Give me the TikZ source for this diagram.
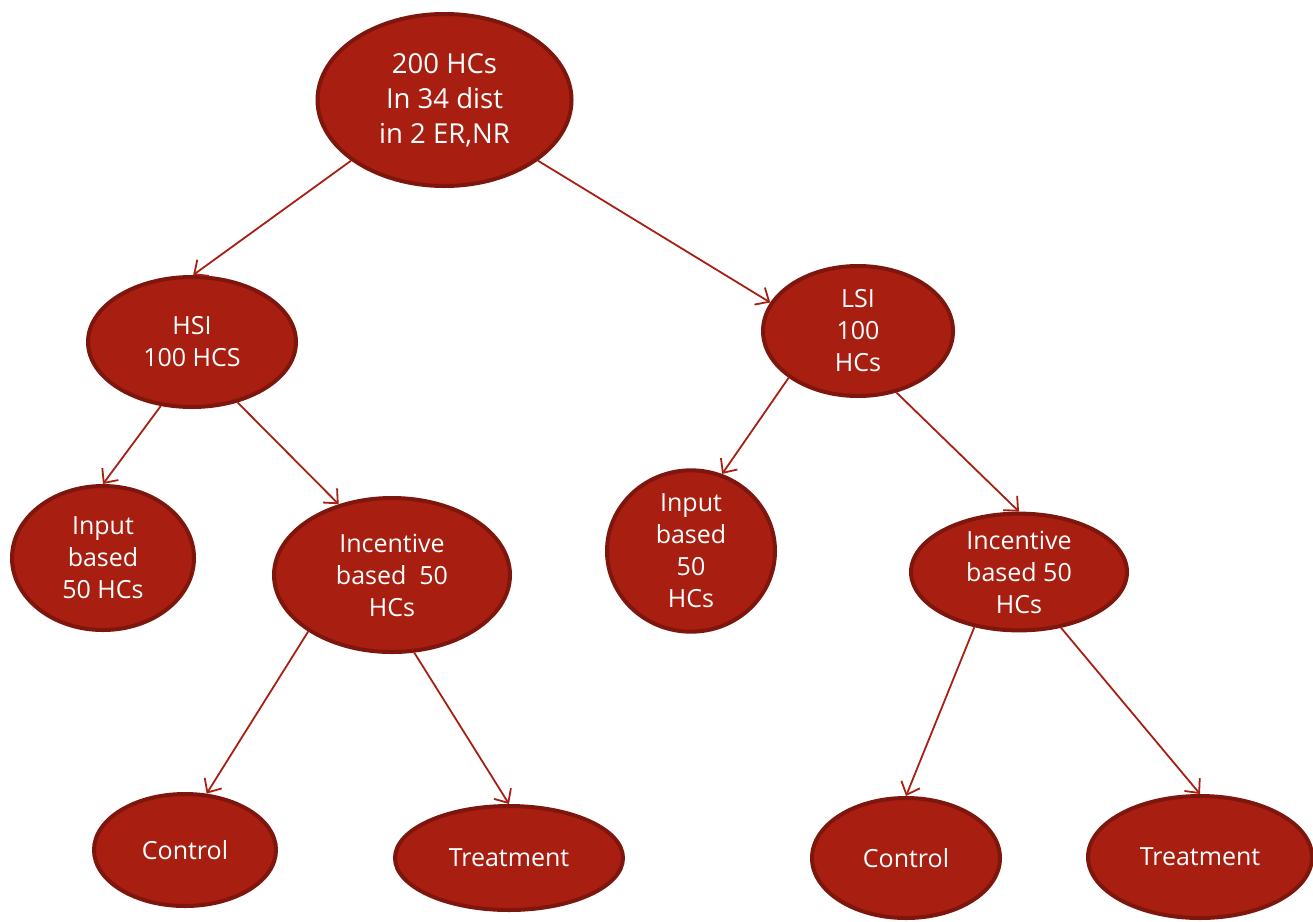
\documentclass[tikz,border=0pt]{standalone}
\usepackage{fontspec}
\setmainfont{Open Sans}
\usetikzlibrary{arrows.meta,shapes.geometric}
\definecolor{nodefill}{HTML}{A81F12}
\definecolor{nodeedge}{HTML}{7E160D}
\definecolor{linkcol}{HTML}{A82014}
\begin{document}
\begin{tikzpicture}[x=1pt,y=-1pt,
  blob/.style={ellipse,draw=nodeedge,line width=4pt,fill=nodefill,text=white,
    align=center,inner sep=0pt,font=\fontsize{25}{32}\selectfont},
  link/.style={draw=linkcol,line width=1.8pt,-{Straight Barb[length=11pt,width=20pt,line width=1.8pt]}}]
\useasboundingbox (0,0) rectangle (1313,921);
\node[blob,minimum width=254pt,minimum height=172pt,font=\fontsize{27.5}{35}\selectfont] (top) at (444.5,100) {200 HCs\\In 34 dist\\in 2 ER,NR};
\node[blob,minimum width=208pt,minimum height=130pt] (hsi) at (192,342) {HSI\\100 HCS};
\node[blob,minimum width=190pt,minimum height=130pt] (lsi) at (858,331) {LSI\\100\\HCs};
\node[blob,minimum width=182pt,minimum height=144pt] (inl) at (103,558) {Input\\based\\50 HCs};
\node[blob,minimum width=236pt,minimum height=154pt] (incl) at (392,575) {Incentive\\based\ \ 50\\HCs};
\node[blob,minimum width=168pt,minimum height=126pt] (inr) at (691,551) {Input\\based\\50\\HCs};
\node[blob,minimum width=216pt,minimum height=112pt] (incr) at (1019,572) {Incentive\\based 50\\HCs};
\node[blob,minimum width=182pt,minimum height=112pt] (conl) at (185,850) {Control};
\node[blob,minimum width=228pt,minimum height=104pt] (trl) at (509,858) {Treatment};
\node[blob,minimum width=188pt,minimum height=120pt] (conr) at (906,858) {Control};
\node[blob,minimum width=224pt,minimum height=122pt] (trr) at (1200,857) {Treatment};
\draw[link] (top.213) -- (hsi.89);
\draw[link] (top.-33.5) -- (lsi.162);
\draw[link] (hsi.-116) -- (inl.90);
\draw[link] (hsi.-53) -- (incl.127);
\draw[link] (lsi.-146) -- (inr.68);
\draw[link] (lsi.-58.6) -- (incr.90);
\draw[link] (incl.-146.6) -- (conl.69);
\draw[link] (incl.-74) -- (trl.90);
\draw[link] (incr.-129) -- (conr.90);
\draw[link] (incr.-53.7) -- (trr.90);
\end{tikzpicture}
\end{document}
